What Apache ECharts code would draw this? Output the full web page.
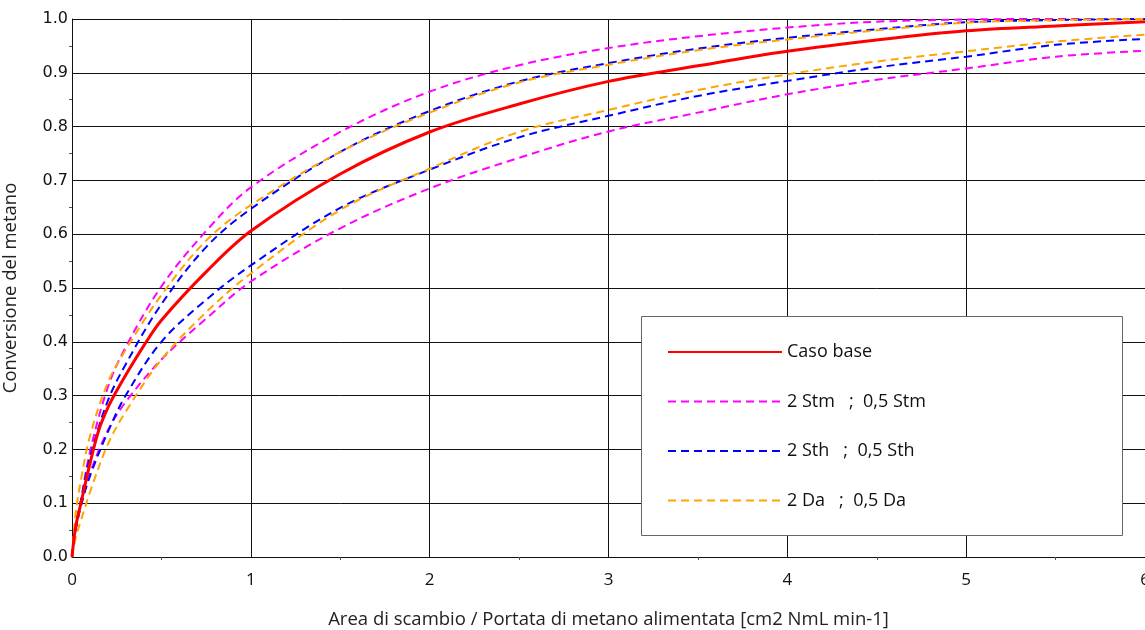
<!DOCTYPE html>
<html>
<head>
<meta charset="utf-8">
<script src="https://cdn.jsdelivr.net/npm/echarts@6/dist/echarts.min.js"></script>
<style>html,body{margin:0;padding:0;background:#fff}#c{width:1145px;height:630px}</style>
</head>
<body>
<div id="c"></div>
<script>
// x values (Area di scambio / Portata di metano alimentata)
const X  = [0, 0.02, 0.05, 0.1, 0.2, 0.3, 0.5, 0.75, 1, 1.5, 2, 2.5, 3, 3.5, 4, 4.5, 5, 5.5, 6];
const XR = [0, 0.02, 0.05, 0.1, 0.15, 0.2, 0.25, 0.3, 0.4, 0.5, 0.75, 1, 1.5, 2, 2.5, 3, 3.5, 4, 4.5, 5, 5.5, 6];
// series values (Conversione del metano)
const casoBase  = [0, 0.055, 0.100, 0.173, 0.236, 0.277, 0.309, 0.338, 0.392, 0.440, 0.530, 0.606, 0.712, 0.790, 0.842, 0.884, 0.913, 0.940, 0.961, 0.978, 0.987, 0.995];
const stmHigh   = [0, 0.050, 0.105, 0.195, 0.315, 0.390, 0.503, 0.606, 0.687, 0.790, 0.865, 0.914, 0.946, 0.968, 0.984, 0.995, 0.999, 1.000, 1.000];
const stmLow    = [0, 0.050, 0.095, 0.155, 0.235, 0.288, 0.367, 0.443, 0.512, 0.611, 0.685, 0.742, 0.791, 0.826, 0.860, 0.887, 0.908, 0.930, 0.941];
const sthHigh   = [0, 0.055, 0.105, 0.185, 0.290, 0.358, 0.470, 0.576, 0.647, 0.753, 0.829, 0.884, 0.918, 0.945, 0.965, 0.981, 0.994, 0.998, 1.000];
const sthLow    = [0, 0.050, 0.095, 0.150, 0.232, 0.300, 0.400, 0.478, 0.542, 0.649, 0.720, 0.780, 0.820, 0.857, 0.885, 0.910, 0.930, 0.952, 0.963];
const daHigh    = [0, 0.080, 0.143, 0.224, 0.324, 0.385, 0.487, 0.588, 0.654, 0.753, 0.826, 0.882, 0.915, 0.942, 0.962, 0.979, 0.993, 0.998, 1.000];
const daLow     = [0, 0.035, 0.068, 0.120, 0.209, 0.270, 0.367, 0.455, 0.527, 0.645, 0.722, 0.790, 0.831, 0.868, 0.897, 0.921, 0.940, 0.958, 0.971];
// tick labels
const xTicks = ['0', '1', '2', '3', '4', '5', '6'];
const yTicks = ['0.0', '0.1', '0.2', '0.3', '0.4', '0.5', '0.6', '0.7', '0.8', '0.9', '1.0'];
// legend labels
const names = ['Caso base', '2 Stm   ;  0,5 Stm', '2 Sth   ;  0,5 Sth', '2 Da   ;  0,5 Da'];

const pair = (xs, arr) => xs.map((x, i) => [x, arr[i]]);
const dashed = (name, color, arr) => ({
  name: name, type: 'line', data: pair(X, arr), symbol: 'none', showSymbol: false, smooth: 0.35,
  lineStyle: { color: color, width: 2, type: [8, 5] }, itemStyle: { color: color }, z: 3
});

const chart = echarts.init(document.getElementById('c'), null, { renderer: 'canvas' });
chart.setOption({
  animation: false,
  backgroundColor: '#fff',
  grid: { left: 72, right: 0, top: 19, bottom: 73, containLabel: false, outerBoundsMode: 'none' },
  xAxis: {
    type: 'value', min: 0, max: 6, interval: 1,
    name: 'Area di scambio / Portata di metano alimentata [cm2 NmL min-1]',
    nameLocation: 'middle', nameGap: 53,
    nameTextStyle: { fontFamily: 'Open Sans', fontSize: 18.5, color: '#222' },
    axisLine: { lineStyle: { color: '#111', width: 1 } },
    axisTick: { show: false },
    minorTick: { show: true, splitNumber: 2, length: 3, inside: true, lineStyle: { color: '#555' } },
    axisLabel: { fontFamily: 'Open Sans', fontSize: 17, color: '#111', margin: 15,
      formatter: v => xTicks[Math.round(v)] },
    splitLine: { show: true, lineStyle: { color: '#111', width: 1 } }
  },
  yAxis: {
    type: 'value', min: 0, max: 1, interval: 0.1,
    name: 'Conversione del metano',
    nameLocation: 'middle', nameGap: 52,
    nameTextStyle: { fontFamily: 'Open Sans', fontSize: 18.5, color: '#222' },
    axisLine: { show: true, lineStyle: { color: '#111', width: 1 } },
    axisTick: { show: false },
    minorTick: { show: true, splitNumber: 2, length: 3, inside: true, lineStyle: { color: '#555' } },
    axisLabel: { fontFamily: 'DejaVu Sans', fontSize: 16, color: '#111', margin: 4,
      formatter: v => yTicks[Math.round(v * 10)] },
    splitLine: { show: true, lineStyle: { color: '#111', width: 1 } }
  },
  graphic: [{
    type: 'rect', left: 641, top: 316, z: 2,
    shape: { width: 481, height: 219 },
    style: { fill: '#fff', stroke: '#666', lineWidth: 1 }
  }],
  legend: {
    data: names, orient: 'vertical', left: 662, top: 338, z: 10,
    itemWidth: 114, itemHeight: 20, itemGap: 31.5,
    itemStyle: { opacity: 0 },
    textStyle: { fontFamily: 'Open Sans', fontSize: 18, color: '#111', padding: [0, 0, 0, 0] }
  },
  series: [
    dashed(names[1], '#ff00ff', stmHigh),
    dashed(names[1], '#ff00ff', stmLow),
    dashed(names[2], '#0000ff', sthHigh),
    dashed(names[2], '#0000ff', sthLow),
    dashed(names[3], '#ffa500', daHigh),
    dashed(names[3], '#ffa500', daLow),
    { name: names[0], type: 'line', data: pair(XR, casoBase), symbol: 'none', showSymbol: false, smooth: 0.35,
      lineStyle: { color: '#ff0000', width: 3 }, itemStyle: { color: '#ff0000' }, z: 4 }
  ]
});
</script>
</body>
</html>
